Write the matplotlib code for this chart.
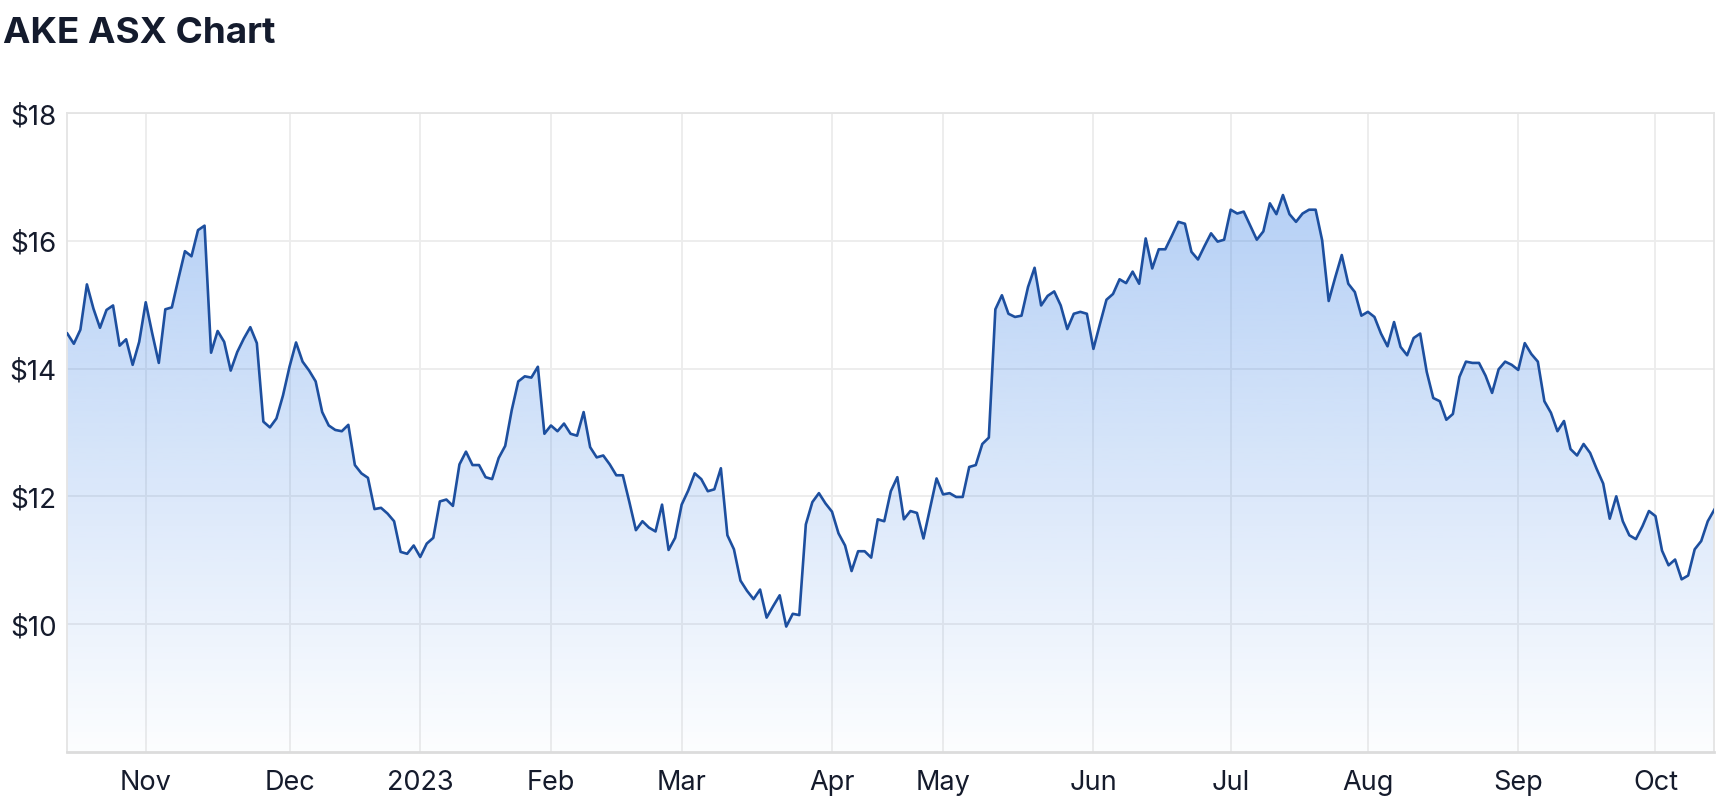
import numpy as np
import pandas as pd
import matplotlib
matplotlib.use("Agg")
import matplotlib.pyplot as plt
from matplotlib.patches import Polygon

plt.rcParams['font.family'] = ['Inter', 'DejaVu Sans']

# ---- data ----
title = "AKE ASX Chart"
asx_holidays = ['2022-12-26', '2022-12-27', '2023-01-02', '2023-01-26',
                '2023-04-07', '2023-04-10', '2023-04-25', '2023-06-12']
start_date = '2022-10-14'
end_date = '2023-10-13'

prices = [
    14.55, 14.39, 14.61, 15.32, 14.94, 14.64, 14.92, 14.99, 14.36, 14.46,
    14.06, 14.42, 15.04, 14.55, 14.09, 14.93, 14.96, 15.41, 15.84, 15.76,
    16.17, 16.24, 14.25, 14.59, 14.42, 13.97, 14.26, 14.47, 14.65, 14.40,
    13.17, 13.08, 13.22, 13.58, 14.03, 14.41, 14.11, 13.97, 13.80, 13.32,
    13.11, 13.04, 13.02, 13.12, 12.49, 12.36, 12.29, 11.80, 11.82, 11.73,
    11.61, 11.13, 11.10, 11.23, 11.05, 11.26, 11.35, 11.92, 11.95, 11.85,
    12.50, 12.70, 12.49, 12.49, 12.30, 12.27, 12.60, 12.79, 13.35, 13.80,
    13.88, 13.86, 14.03, 12.98, 13.11, 13.02, 13.14, 12.98, 12.95, 13.32,
    12.77, 12.61, 12.64, 12.50, 12.33, 12.33, 11.91, 11.47, 11.61, 11.51,
    11.45, 11.87, 11.16, 11.35, 11.87, 12.09, 12.36, 12.27, 12.08, 12.11,
    12.44, 11.39, 11.17, 10.68, 10.52, 10.39, 10.54, 10.10, 10.28, 10.45,
    9.96, 10.16, 10.14, 11.56, 11.91, 12.05, 11.89, 11.76, 11.42, 11.23,
    10.83, 11.14, 11.14, 11.04, 11.64, 11.61, 12.08, 12.30, 11.64, 11.77,
    11.74, 11.34, 11.81, 12.28, 12.03, 12.05, 11.99, 11.99, 12.46, 12.49,
    12.82, 12.92, 14.93, 15.15, 14.86, 14.81, 14.83, 15.28, 15.58, 14.99,
    15.14, 15.21, 14.99, 14.62, 14.86, 14.89, 14.86, 14.31, 14.70, 15.08,
    15.17, 15.40, 15.34, 15.52, 15.33, 16.04, 15.57, 15.87, 15.87, 16.08,
    16.30, 16.27, 15.83, 15.71, 15.92, 16.12, 15.99, 16.02, 16.49, 16.43,
    16.46, 16.24, 16.02, 16.15, 16.59, 16.42, 16.72, 16.42, 16.30, 16.43,
    16.49, 16.49, 16.01, 15.06, 15.43, 15.78, 15.33, 15.20, 14.83, 14.89,
    14.81, 14.55, 14.35, 14.73, 14.34, 14.21, 14.48, 14.55, 13.95, 13.54,
    13.49, 13.20, 13.29, 13.87, 14.11, 14.09, 14.09, 13.89, 13.62, 13.99,
    14.11, 14.06, 13.98, 14.40, 14.23, 14.11, 13.49, 13.31, 13.02, 13.18,
    12.74, 12.64, 12.82, 12.68, 12.43, 12.20, 11.65, 12.00, 11.61, 11.39,
    11.33, 11.53, 11.77, 11.69, 11.15, 10.92, 11.01, 10.70, 10.76, 11.17,
    11.30, 11.61, 11.79,
]
y_ticks = [10, 12, 14, 16, 18]
y_min, y_max = 8, 18

# ---- derived ----
dates = pd.bdate_range(start_date, end_date, freq='C', holidays=asx_holidays)
n = min(len(dates), len(prices))
dates = dates[:n]
vals = np.array(prices[:n])
x = np.arange(n)

tick_pos, tick_lab = [], []
for i in range(1, n):
    if dates[i].month != dates[i - 1].month:
        tick_pos.append(i)
        tick_lab.append(str(dates[i].year) if dates[i].month == 1 else dates[i].strftime('%b'))

# ---- figure ----
W, H = 1724, 812
fig = plt.figure(figsize=(W / 100, H / 100), dpi=100)
L, R, T, B = 67.3, 1714.3, 114.3, 752.7
ax = fig.add_axes([L / W, 1 - B / H, (R - L) / W, (B - T) / H])

line_col = '#1d4f9f'
base = np.array([59, 130, 230]) / 255.0
g = np.linspace(1, 0, 256)
rgba = np.zeros((256, 1, 4))
rgba[:, 0, :3] = base
rgba[:, 0, 3] = 0.015 + 0.36 * g
im = ax.imshow(rgba, extent=[0, n - 1, y_min, vals.max()], aspect='auto',
               origin='upper', zorder=1, interpolation='bilinear')
verts = [(0, y_min)] + list(zip(x, vals)) + [(n - 1, y_min)]
poly = Polygon(verts, closed=True, facecolor='none', edgecolor='none')
ax.add_patch(poly)
im.set_clip_path(poly)

ax.plot(x, vals, color=line_col, lw=1.9, zorder=3)

ax.set_xlim(0, n - 1)
ax.set_ylim(y_min, y_max)
ax.set_yticks(y_ticks)
ax.set_yticklabels([f'${v}' for v in y_ticks])
ax.set_xticks(tick_pos)
ax.set_xticklabels(tick_lab)
ax.grid(True, color='#ececec', lw=1.3)
ax.set_axisbelow(True)
for s in ['left', 'top', 'right']:
    ax.spines[s].set_color('#e4e4e4')
    ax.spines[s].set_linewidth(1.3)
ax.spines['bottom'].set_color('#dcdcdc')
ax.spines['bottom'].set_linewidth(2)
ax.tick_params(axis='both', length=0, colors='#151b2c')
ax.tick_params(axis='y', pad=7.6, labelsize=20)
ax.tick_params(axis='x', pad=12.5, labelsize=19.5)

fig.text(3 / W, 1 - 43 / H, title, fontsize=26.5, fontweight='bold',
         color='#141b2d', ha='left', va='baseline')

fig.savefig('out.png', dpi=100)
